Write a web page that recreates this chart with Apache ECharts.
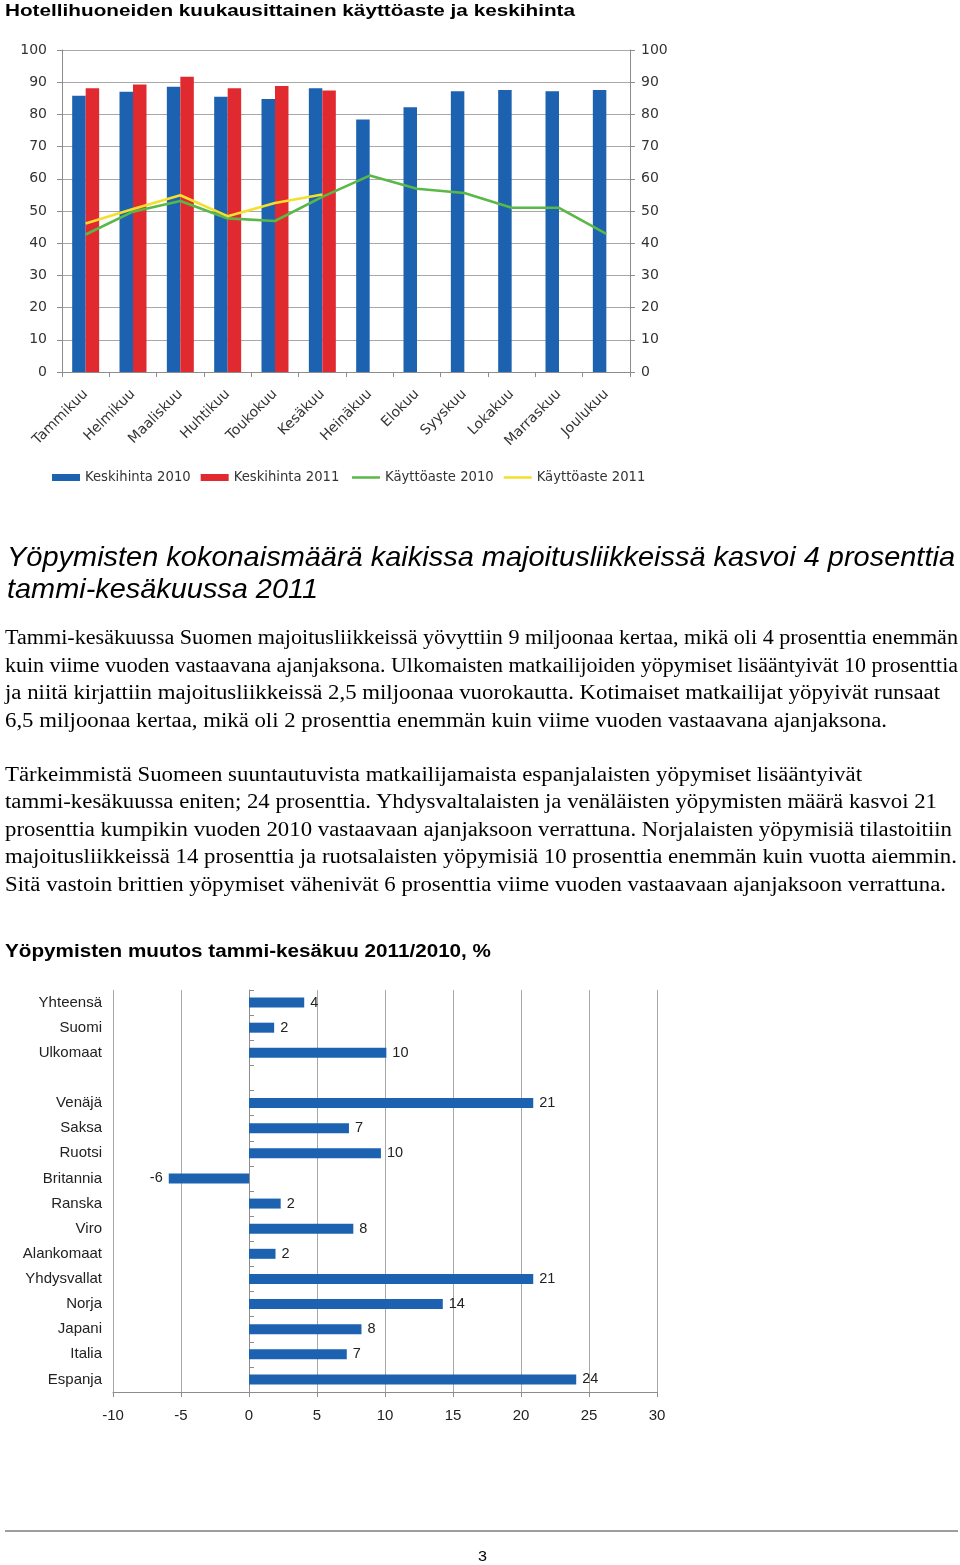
<!DOCTYPE html>
<html>
<head>
<meta charset="utf-8">
<script src="https://cdn.jsdelivr.net/npm/echarts@6/dist/echarts.min.js"></script>
<style>
  html, body { margin: 0; padding: 0; background: #fff; }
  #page { position: relative; width: 960px; height: 1565px; overflow: hidden; }
  #chart { position: absolute; left: 0; top: 0; width: 960px; height: 1565px; }
  .fit { position: absolute; white-space: nowrap; display: inline-block; transform-origin: 0 0; color: #000; line-height: 1; }
  .sansb { font-family: "Liberation Sans", Arial, sans-serif; font-weight: bold; }
  .sansi { font-family: "Liberation Sans", Arial, sans-serif; font-style: italic; }
  .serif { font-family: "Liberation Serif", "Times New Roman", serif; }
  #rule { position: absolute; left: 5px; top: 1530px; width: 953px; height: 2px; background: #9e9e9e; }
</style>
</head>
<body>
<div id="page">
  <div id="chart"></div>

  <div class="fit sansb" style="left:5px;top:2px;font-size:17px" data-w="570">Hotellihuoneiden kuukausittainen käyttöaste ja keskihinta</div>

  <div class="fit sansi" style="left:7px;top:543px;font-size:28px" data-w="948">Yöpymisten kokonaismäärä kaikissa majoitusliikkeissä kasvoi 4 prosenttia</div>
  <div class="fit sansi" style="left:7px;top:575px;font-size:28px" data-w="311">tammi-kesäkuussa 2011</div>

  <div class="fit serif" style="left:5px;top:627px;font-size:20.5px" data-w="953">Tammi-kesäkuussa Suomen majoitusliikkeissä yövyttiin 9 miljoonaa kertaa, mikä oli 4 prosenttia enemmän</div>
  <div class="fit serif" style="left:5px;top:655px;font-size:20.5px" data-w="953">kuin viime vuoden vastaavana ajanjaksona. Ulkomaisten matkailijoiden yöpymiset lisääntyivät 10 prosenttia</div>
  <div class="fit serif" style="left:5px;top:682px;font-size:20.5px" data-w="935">ja niitä kirjattiin majoitusliikkeissä 2,5 miljoonaa vuorokautta. Kotimaiset matkailijat yöpyivät runsaat</div>
  <div class="fit serif" style="left:5px;top:710px;font-size:20.5px" data-w="882">6,5 miljoonaa kertaa, mikä oli 2 prosenttia enemmän kuin viime vuoden vastaavana ajanjaksona.</div>

  <div class="fit serif" style="left:5px;top:764px;font-size:20.5px" data-w="857">Tärkeimmistä Suomeen suuntautuvista matkailijamaista espanjalaisten yöpymiset lisääntyivät</div>
  <div class="fit serif" style="left:5px;top:791px;font-size:20.5px" data-w="932">tammi-kesäkuussa eniten; 24 prosenttia. Yhdysvaltalaisten ja venäläisten yöpymisten määrä kasvoi 21</div>
  <div class="fit serif" style="left:5px;top:819px;font-size:20.5px" data-w="947">prosenttia kumpikin vuoden 2010 vastaavaan ajanjaksoon verrattuna. Norjalaisten yöpymisiä tilastoitiin</div>
  <div class="fit serif" style="left:5px;top:846px;font-size:20.5px" data-w="952">majoitusliikkeissä 14 prosenttia ja ruotsalaisten yöpymisiä 10 prosenttia enemmän kuin vuotta aiemmin.</div>
  <div class="fit serif" style="left:5px;top:874px;font-size:20.5px" data-w="941">Sitä vastoin brittien yöpymiset vähenivät 6 prosenttia viime vuoden vastaavaan ajanjaksoon verrattuna.</div>

  <div class="fit sansb" style="left:5px;top:942px;font-size:18px" data-w="486">Yöpymisten muutos tammi-kesäkuu 2011/2010, %</div>

  <div id="rule"></div>
  <div class="fit sansb" style="left:478px;top:1549px;font-size:14px;font-weight:normal" data-w="9">3</div>
</div>

<script>
// ---- Chart 1 data ----
const months = ['Tammikuu', 'Helmikuu', 'Maaliskuu', 'Huhtikuu', 'Toukokuu', 'Kesäkuu',
                'Heinäkuu', 'Elokuu', 'Syyskuu', 'Lokakuu', 'Marraskuu', 'Joulukuu'];
const price2010 = [85.8, 87.0, 88.6, 85.5, 84.8, 88.1, 78.4, 82.2, 87.2, 87.6, 87.2, 87.6];
const price2011 = [88.1, 89.3, 91.7, 88.1, 88.8, 87.4, null, null, null, null, null, null];
const occ2010 = [42.7, 49.8, 53.1, 47.7, 46.9, 54.4, 61.0, 56.9, 55.6, 51.0, 51.0, 42.9];
const occ2011 = [46.1, 50.6, 54.9, 48.4, 52.5, 55.1, null, null, null, null, null, null];
const seriesNames1 = ['Keskihinta 2010', 'Keskihinta 2011', 'Käyttöaste 2010', 'Käyttöaste 2011'];

// ---- Chart 2 data ----
const groups = ['Yhteensä', 'Suomi', 'Ulkomaat', '', 'Venäjä', 'Saksa', 'Ruotsi', 'Britannia',
                'Ranska', 'Viro', 'Alankomaat', 'Yhdysvallat', 'Norja', 'Japani', 'Italia', 'Espanja'];
const change = [4.06, 1.85, 10.1, null, 20.9, 7.35, 9.7, -5.9, 2.33, 7.67, 1.95, 20.9, 14.25, 8.27, 7.19, 24.06];
const changeLabels = ['4', '2', '10', '', '21', '7', '10', '-6', '2', '8', '2', '21', '14', '8', '7', '24'];

const BLUE = '#1c62b0', RED = '#e02a30', GREEN = '#59b847', YELLOW = '#f3df2c';
const GRID = '#a8a8a8', AXIS = '#8c8c8c';
const F1 = '"DejaVu Sans", sans-serif';
const F2 = '"Liberation Sans", Arial, sans-serif';

const chart = echarts.init(document.getElementById('chart'), null, { renderer: 'canvas' });

const valueAxis1 = (pos, margin, split) => ({
  type: 'value', gridIndex: 0, position: pos, min: 0, max: 100, interval: 10,
  axisLine: { show: true, lineStyle: { color: AXIS, width: 1 } },
  axisTick: { show: true, length: 5, lineStyle: { color: AXIS } },
  axisLabel: { margin: margin, fontFamily: F1, fontSize: 14, color: '#333' },
  splitLine: { show: split, lineStyle: { color: GRID, width: 1 } }
});

const legendText = { fontFamily: F1, fontSize: 13.2, color: '#333' };

const option = {
  animation: false,
  backgroundColor: '#fff',
  legend: [
    {
      left: 52, top: 471, padding: 0,
      itemWidth: 28, itemHeight: 7, itemGap: 10,
      textStyle: legendText,
      data: [
        { name: seriesNames1[0], icon: 'rect' },
        { name: seriesNames1[1], icon: 'rect' }
      ]
    },
    {
      left: 352, top: 471, padding: 0,
      itemWidth: 28, itemHeight: 2.5, itemGap: 10,
      textStyle: legendText,
      data: [
        { name: seriesNames1[2], icon: 'rect' },
        { name: seriesNames1[3], icon: 'rect' }
      ]
    }
  ],
  grid: [
    { left: 62, top: 50, width: 568, height: 322 },
    { left: 113, top: 990, width: 544, height: 402 }
  ],
  xAxis: [
    {
      type: 'category', gridIndex: 0, data: months,
      axisLine: { show: true, lineStyle: { color: AXIS } },
      axisTick: { show: true, length: 5, lineStyle: { color: AXIS } },
      axisLabel: { interval: 0, rotate: 45, margin: 20, fontFamily: F1, fontSize: 14, color: '#333' }
    },
    {
      type: 'value', gridIndex: 1, min: -10, max: 30, interval: 5,
      axisLine: { show: true, onZero: false, lineStyle: { color: AXIS } },
      axisTick: { show: true, length: 5, lineStyle: { color: AXIS } },
      axisLabel: { margin: 16, fontFamily: F2, fontSize: 15, color: '#222' },
      splitLine: { show: true, lineStyle: { color: GRID, width: 1 } }
    }
  ],
  yAxis: [
    valueAxis1('left', 15, true),
    valueAxis1('right', 11, false),
    {
      type: 'category', gridIndex: 1, data: groups, inverse: true,
      axisLine: { show: false, onZero: false },
      axisTick: { show: false },
      axisLabel: { margin: 11, fontFamily: F2, fontSize: 15, color: '#222' }
    },
    {
      type: 'category', gridIndex: 1, data: groups, inverse: true,
      axisLine: { show: true, onZero: true, lineStyle: { color: AXIS } },
      axisTick: { show: true, length: 5, lineStyle: { color: AXIS } },
      axisLabel: { show: false }
    }
  ],
  series: [
    {
      name: seriesNames1[0], type: 'bar', xAxisIndex: 0, yAxisIndex: 0, data: price2010,
      itemStyle: { color: BLUE }, barGap: '0%', barCategoryGap: '43%', z: 2
    },
    {
      name: seriesNames1[1], type: 'bar', xAxisIndex: 0, yAxisIndex: 0, data: price2011,
      itemStyle: { color: RED }, barGap: '0%', barCategoryGap: '43%', z: 2
    },
    {
      name: seriesNames1[2], type: 'line', xAxisIndex: 0, yAxisIndex: 1, data: occ2010,
      symbol: 'none', lineStyle: { color: GREEN, width: 2.6 }, itemStyle: { color: GREEN }, z: 4
    },
    {
      name: seriesNames1[3], type: 'line', xAxisIndex: 0, yAxisIndex: 1, data: occ2011,
      symbol: 'none', lineStyle: { color: YELLOW, width: 2.6 }, itemStyle: { color: YELLOW }, z: 5
    },
    {
      type: 'bar', xAxisIndex: 1, yAxisIndex: 2, barWidth: 10,
      itemStyle: { color: BLUE },
      data: change.map((v, i) => v == null ? null : {
        value: v,
        label: { position: v < 0 ? 'left' : 'right', formatter: changeLabels[i] }
      }),
      label: { show: true, distance: 6, fontFamily: F2, fontSize: 14.5, color: '#222' }
    }
  ]
};
chart.setOption(option);

// fit text lines to measured widths of the reference
document.querySelectorAll('.fit').forEach(el => {
  const w = el.getBoundingClientRect().width;
  const target = parseFloat(el.dataset.w);
  if (w > 0 && target) el.style.transform = 'scaleX(' + (target / w) + ')';
});
</script>
</body>
</html>
